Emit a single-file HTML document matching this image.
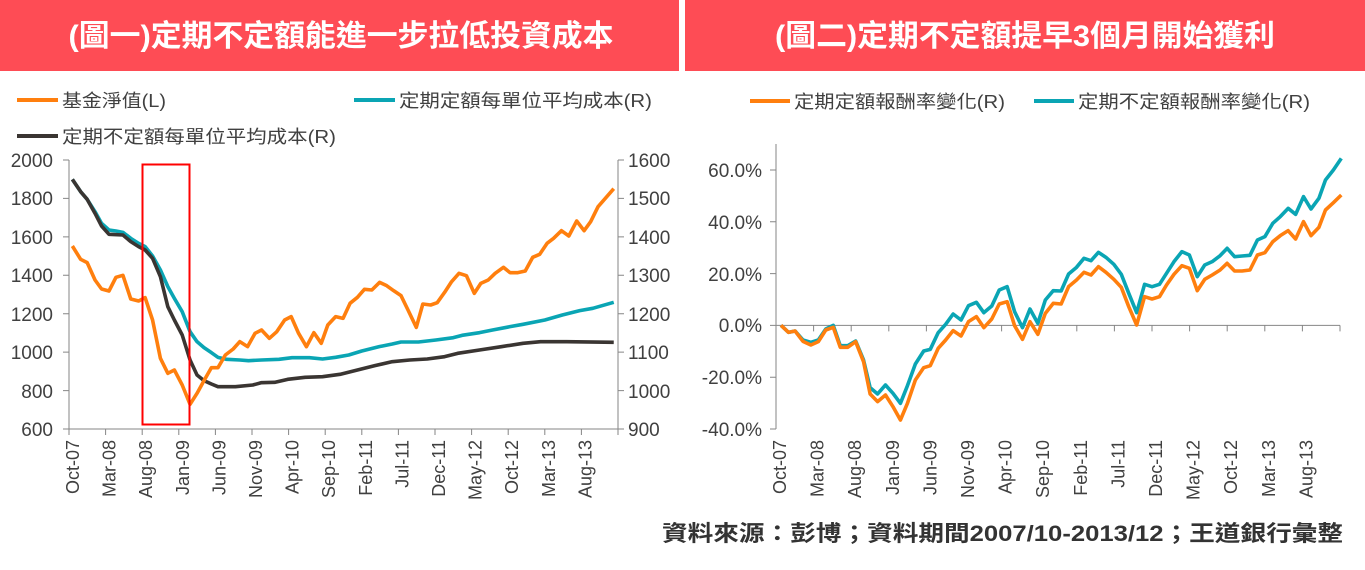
<!DOCTYPE html>
<html><head><meta charset="utf-8"><style>
html,body{margin:0;padding:0;background:#fff;}
svg{display:block;font-family:"Liberation Sans","Noto Sans CJK TC",sans-serif;}
.pl{fill:none;stroke-width:3.6;stroke-linejoin:round;vector-effect:non-scaling-stroke;}
.ax{stroke:#868686;stroke-width:1;fill:none;}
.yl{font-size:19px;fill:#404040;}
.xl{font-size:18px;fill:#404040;}
.lg{font-size:18px;fill:#404040;}
</style></head><body>
<svg width="1365" height="570" viewBox="0 0 1365 570">
<rect x="0" y="0" width="679" height="71" fill="#fe4c55"/>
<rect x="685" y="0" width="680" height="71" fill="#fe4c55"/>
<text x="341" y="46" text-anchor="middle" font-size="30" font-weight="bold" fill="#fff" textLength="545" lengthAdjust="spacingAndGlyphs">(圖一)定期不定額能進一步拉低投資成本</text>
<text x="1025" y="46" text-anchor="middle" font-size="30" font-weight="bold" fill="#fff" textLength="500" lengthAdjust="spacingAndGlyphs">(圖二)定期不定額提早3個月開始獲利</text>

<!-- legends -->
<line x1="17" y1="100" x2="58" y2="100" stroke="#ff7f0e" stroke-width="4"/>
<text x="62" y="107" class="lg" textLength="104" lengthAdjust="spacingAndGlyphs">基金淨值(L)</text>
<line x1="354" y1="100" x2="395" y2="100" stroke="#0aa5b4" stroke-width="4"/>
<text x="399" y="107" class="lg" textLength="253" lengthAdjust="spacingAndGlyphs">定期定額每單位平均成本(R)</text>
<line x1="17" y1="136" x2="58" y2="136" stroke="#3a3532" stroke-width="4"/>
<text x="62" y="143" class="lg" textLength="274" lengthAdjust="spacingAndGlyphs">定期不定額每單位平均成本(R)</text>
<line x1="750" y1="101" x2="790" y2="101" stroke="#ff7f0e" stroke-width="4"/>
<text x="794" y="108" class="lg" textLength="211" lengthAdjust="spacingAndGlyphs">定期定額報酬率變化(R)</text>
<line x1="1034" y1="101" x2="1074" y2="101" stroke="#0aa5b4" stroke-width="4"/>
<text x="1078" y="108" class="lg" textLength="232" lengthAdjust="spacingAndGlyphs">定期不定額報酬率變化(R)</text>

<!-- left chart axes -->
<path class="ax" d="M69,160V429H618V160 M63,160H69 M63,198.4H69 M63,236.9H69 M63,275.3H69 M63,313.7H69 M63,352.1H69 M63,390.6H69 M63,429H69 M618,160H624 M618,198.4H624 M618,236.9H624 M618,275.3H624 M618,313.7H624 M618,352.1H624 M618,390.6H624 M618,429H624
M69,429v6 M105.6,429v6 M142.2,429v6 M178.8,429v6 M215.4,429v6 M252,429v6 M288.6,429v6 M325.2,429v6 M361.8,429v6 M398.4,429v6 M435,429v6 M471.6,429v6 M508.2,429v6 M544.8,429v6 M581.4,429v6 M618,429v6"/>
<g class="yl" text-anchor="end">
<text x="53" y="167">2000</text><text x="53" y="205">1800</text><text x="53" y="244">1600</text><text x="53" y="282">1400</text><text x="53" y="321">1200</text><text x="53" y="359">1000</text><text x="53" y="398">800</text><text x="53" y="436">600</text>
</g>
<g class="yl">
<text x="628" y="167">1600</text><text x="628" y="205">1500</text><text x="628" y="244">1400</text><text x="628" y="282">1300</text><text x="628" y="321">1200</text><text x="628" y="359">1100</text><text x="628" y="398">1000</text><text x="628" y="436">900</text>
</g>
<g class="xl" text-anchor="end">
<text transform="translate(79,440) rotate(-90)">Oct-07</text>
<text transform="translate(115.6,440) rotate(-90)">Mar-08</text>
<text transform="translate(152.2,440) rotate(-90)">Aug-08</text>
<text transform="translate(188.8,440) rotate(-90)">Jan-09</text>
<text transform="translate(225.4,440) rotate(-90)">Jun-09</text>
<text transform="translate(262,440) rotate(-90)">Nov-09</text>
<text transform="translate(298.6,440) rotate(-90)">Apr-10</text>
<text transform="translate(335.2,440) rotate(-90)">Sep-10</text>
<text transform="translate(371.8,440) rotate(-90)">Feb-11</text>
<text transform="translate(408.4,440) rotate(-90)">Jul-11</text>
<text transform="translate(445,440) rotate(-90)">Dec-11</text>
<text transform="translate(481.6,440) rotate(-90)">May-12</text>
<text transform="translate(518.2,440) rotate(-90)">Oct-12</text>
<text transform="translate(554.8,440) rotate(-90)">Mar-13</text>
<text transform="translate(591.4,440) rotate(-90)">Aug-13</text>
</g>
<g transform="translate(0,140) scale(0.4359,0.33333)">
<polyline class="pl" stroke="#0aa5b4" points="166,118 185,155 200,178 218,215 233,250 250,270 266,273 282,277 300,295 318,310 333,320 350,348 368,390 385,440 400,475 418,515 436,575 452,605 468,623 485,638 500,652 520,658 550,660 570,662 600,660 640,658 670,653 710,653 740,657 770,652 800,645 830,633 870,620 900,612 920,606 960,606 1000,600 1040,593 1060,586 1100,578 1130,570 1170,560 1200,553 1250,540 1290,525 1330,512 1360,505 1408,487"/>
<polyline class="pl" stroke="#3a3532" points="166,118 185,155 200,178 218,220 233,258 250,283 282,285 300,305 318,320 333,330 350,355 368,410 385,500 400,540 418,585 436,660 452,705 468,722 485,732 500,740 540,740 580,735 600,728 630,727 660,718 700,712 740,710 780,703 820,690 860,677 900,665 940,660 980,657 1020,650 1050,640 1100,630 1150,620 1200,610 1240,605 1300,605 1408,607"/>
<polyline class="pl" stroke="#ff7f0e" points="166,318 185,358 200,368 218,420 233,447 250,453 266,412 282,406 300,477 318,483 333,473 350,540 368,655 385,700 400,690 418,735 436,793 452,760 468,722 485,683 500,683 517,645 535,627 550,605 568,620 585,580 600,570 618,595 635,575 653,540 668,530 685,580 703,620 720,578 737,610 752,555 770,530 787,535 803,490 820,472 836,448 853,450 871,427 887,437 903,452 920,467 936,510 955,562 970,492 988,495 1003,488 1020,457 1036,425 1053,400 1070,407 1088,460 1103,430 1120,420 1136,400 1155,382 1170,398 1188,398 1205,393 1222,352 1238,343 1255,310 1270,295 1288,272 1305,288 1323,243 1340,272 1355,245 1372,200 1390,173 1408,146"/>
</g>
<rect x="142.5" y="164.5" width="47" height="260" fill="none" stroke="#ff0000" stroke-width="2"/>

<!-- right chart axes -->
<path class="ax" d="M776,144V429 M770,170H776 M770,221.8H776 M770,273.6H776 M770,325.4H776 M770,377.2H776 M770,429H776 M776,325.4H1340
M776,325.4v6 M813.6,325.4v6 M851.2,325.4v6 M888.8,325.4v6 M926.4,325.4v6 M964,325.4v6 M1001.6,325.4v6 M1039.2,325.4v6 M1076.8,325.4v6 M1114.4,325.4v6 M1152,325.4v6 M1189.6,325.4v6 M1227.2,325.4v6 M1264.8,325.4v6 M1302.4,325.4v6 M1340,325.4v6"/>
<g class="yl" text-anchor="end">
<text x="762" y="177">60.0%</text><text x="762" y="229">40.0%</text><text x="762" y="281">20.0%</text><text x="762" y="332">0.0%</text><text x="762" y="384">-20.0%</text><text x="762" y="436">-40.0%</text>
</g>
<g class="xl" text-anchor="end">
<text transform="translate(786,440) rotate(-90)">Oct-07</text>
<text transform="translate(823.6,440) rotate(-90)">Mar-08</text>
<text transform="translate(861.2,440) rotate(-90)">Aug-08</text>
<text transform="translate(898.8,440) rotate(-90)">Jan-09</text>
<text transform="translate(936.4,440) rotate(-90)">Jun-09</text>
<text transform="translate(974,440) rotate(-90)">Nov-09</text>
<text transform="translate(1011.6,440) rotate(-90)">Apr-10</text>
<text transform="translate(1049.2,440) rotate(-90)">Sep-10</text>
<text transform="translate(1086.8,440) rotate(-90)">Feb-11</text>
<text transform="translate(1124.4,440) rotate(-90)">Jul-11</text>
<text transform="translate(1162,440) rotate(-90)">Dec-11</text>
<text transform="translate(1199.6,440) rotate(-90)">May-12</text>
<text transform="translate(1237.2,440) rotate(-90)">Oct-12</text>
<text transform="translate(1274.8,440) rotate(-90)">Mar-13</text>
<text transform="translate(1312.4,440) rotate(-90)">Aug-13</text>
</g>
<g transform="translate(680,140) scale(0.4391,0.33333)">
<polyline class="pl" stroke="#0aa5b4" points="230,556 247,577 262,573 280,600 298,607 315,600 332,567 349,556 365,617 382,617 400,603 418,660 433,743 450,762 468,735 485,760 502,790 518,737 536,672 555,633 570,628 588,578 605,553 622,522 640,540 657,497 675,487 692,518 710,498 727,450 745,440 762,515 780,563 797,507 815,550 832,480 850,452 868,453 885,402 903,382 920,355 936,362 953,337 970,352 988,373 1005,403 1022,460 1040,518 1058,433 1075,440 1092,433 1108,400 1125,365 1143,335 1160,345 1178,410 1195,375 1212,365 1230,347 1246,325 1263,350 1280,348 1298,346 1315,300 1332,290 1350,250 1367,230 1385,205 1402,223 1420,170 1437,207 1455,175 1470,120 1488,90 1506,55"/>
<polyline class="pl" stroke="#ff7f0e" points="230,556 247,577 262,573 280,604 298,615 315,605 332,570 349,562 365,622 382,622 400,605 418,665 433,762 450,785 468,765 485,800 502,840 518,790 536,720 555,683 570,677 588,625 605,600 622,572 640,588 657,545 675,530 692,563 710,537 727,492 745,485 762,557 780,598 797,545 815,583 832,520 850,490 868,492 885,440 903,420 920,397 936,405 953,380 970,397 988,418 1005,442 1022,500 1040,555 1058,470 1075,477 1092,470 1108,435 1125,403 1143,377 1160,385 1178,452 1195,418 1212,405 1230,390 1246,370 1263,393 1280,393 1298,390 1315,345 1332,338 1350,305 1367,287 1385,272 1402,297 1420,245 1437,287 1455,262 1470,210 1488,188 1506,165"/>
</g>

<text x="1343" y="541" text-anchor="end" font-size="22" font-weight="bold" fill="#333" textLength="681" lengthAdjust="spacingAndGlyphs">資料來源：彭博；資料期間2007/10-2013/12；王道銀行彙整</text>
</svg>
</body></html>
